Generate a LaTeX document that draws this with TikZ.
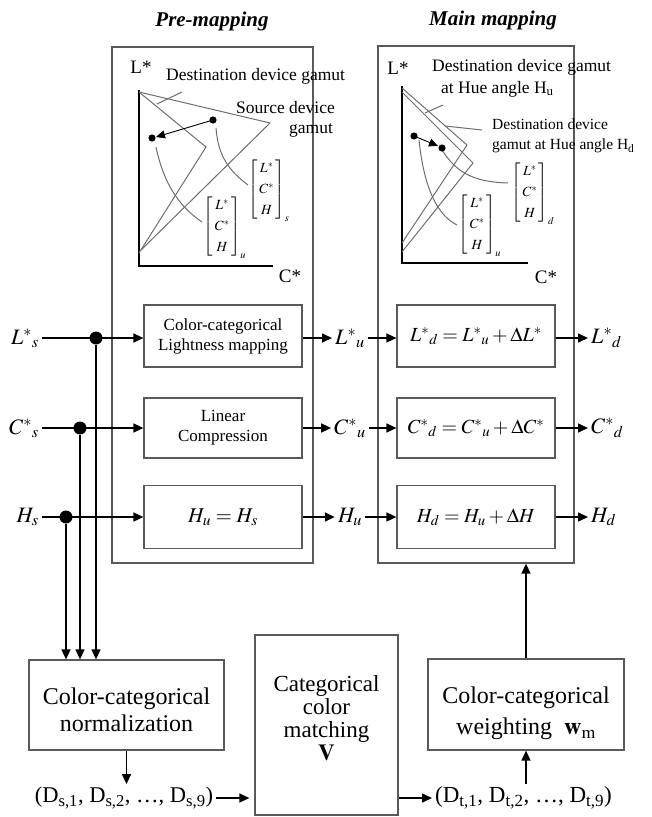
\documentclass[tikz,border=0pt]{standalone}
\usepackage{mathptmx}
\usepackage{fontspec}
\setmainfont{Liberation Serif}
\usepackage{xcolor}
\definecolor{boxgray}{HTML}{5A5A5A}
\definecolor{linegray}{HTML}{6E6E6E}
\usepackage{tikz}
\usetikzlibrary{arrows.meta,positioning,calc}
\newcommand{\fsz}[1]{\fontsize{#1}{#1}\selectfont}
\newcommand{\lchvec}[1]{$\renewcommand{\arraystretch}{1.5}\left[\begin{array}{@{\,}c@{\,}}L^{*}\\C^{*}\\H\end{array}\right]_{#1}$}
\newcommand{\dropby}[2]{\raisebox{-#1}[\height][\depth]{\begin{tabular}{@{}c@{}}#2\end{tabular}}}

\begin{document}
\begin{tikzpicture}[
  x=1pt, y=-1pt,
  big/.style={draw=boxgray, line width=1.3pt, inner sep=0pt},
  blk/.style={draw=boxgray, line width=1.2pt, minimum width=158pt, align=center, inner sep=0pt},
  lbl/.style={inner sep=3pt, font=\fsz{22}},
  junc/.style={circle, fill=black, inner sep=0pt, minimum size=13pt},
  arr/.style={-{Triangle[length=10pt, width=9pt]}, line width=1.6pt},
  gam/.style={draw=linegray, line width=1pt},
  axis/.style={line width=2pt}
]
\useasboundingbox (0,0) rectangle (651,817);

% titles and the two stages
\node[font=\fsz{21}\bfseries\itshape] (pretitle) at (212,21) {Pre-mapping};
\node[font=\fsz{21}\bfseries\itshape] (maintitle) at (493,20) {Main mapping};
\node[big, minimum width=201pt, minimum height=516pt] (prebox) at (212.5,305) {};
\node[big, minimum width=196pt, minimum height=517pt] (mainbox) at (476,304.5) {};

% pre-mapping gamut sketch
\draw[axis] (139,90) -- (139,266) -- (273,266);
\draw[gam] (139,92) -- (206,147) -- (139,253);
\draw[gam] (139,92) -- (270,123) -- (139,252);
\draw[gam] (182,92) -- (157,104);
\draw[gam] (216,128) .. controls (218,155) and (228,170) .. (248,185);
\draw[gam] (156,147) .. controls (164,185) and (180,207) .. (202,222);
\node[font=\fsz{19}] (pl) at (141,67) {L*};
\node[font=\fsz{19}] (pc) at (290,276) {C*};
\node[font=\fsz{17.5}, anchor=west, inner sep=0pt] (pdest) at (166,76) {Destination device gamut};
\node[font=\fsz{17.5}, anchor=west, inner sep=0pt] (psrc) at (236,108) {Source device};
\node[font=\fsz{17.5}, inner sep=0pt] (psrcb) at (311,130) {gamut};
\fill (213,120) circle (3.6pt) (152,138) circle (3.6pt);
\draw[-{Triangle[length=9pt, width=8pt]}, line width=0.9pt] (213,120) -- (156,137);
\node[font=\fsz{14}] (pvs) at (269,190) {\lchvec{s}};
\node[font=\fsz{14}] (pvu) at (225,227) {\lchvec{u}};

% main mapping gamut sketch
\draw[axis] (402,86) -- (402,263) -- (528,263);
\draw[gam] (402,88) -- (467,145) -- (402,243);
\draw[gam] (402,92) -- (473,163) -- (402,252);
\draw[gam] (443,105) -- (425,113);
\draw[gam] (482,130) -- (445,126);
\draw[gam] (419,140) .. controls (423,178) and (433,213) .. (457,225);
\draw[gam] (442,150) .. controls (455,170) and (470,182) .. (508,183);
\node[font=\fsz{19}] (ml) at (398,68) {L*};
\node[font=\fsz{19}] (mc) at (546,277) {C*};
\node[font=\fsz{17.5}, anchor=west, inner sep=0pt] (mdest) at (432,67) {Destination device gamut};
\node[font=\fsz{17.5}, anchor=west, inner sep=0pt] (mdestb) at (441,89) {at Hue angle H\textsubscript{u}};
\node[font=\fsz{15.5}, anchor=west, inner sep=0pt] (mhd) at (492,124) {Destination device};
\node[font=\fsz{15.5}, anchor=west, inner sep=0pt] (mhdb) at (492,146) {gamut at Hue angle H\textsubscript{d}};
\fill (414,136) circle (3.6pt) (442,148) circle (3.6pt);
\draw[-{Triangle[length=9pt, width=8pt]}, line width=0.9pt] (414,136) -- (438,146);
\node[font=\fsz{14}] (mvu) at (480,225) {\lchvec{u}};
\node[font=\fsz{14}] (mvd) at (533,193) {\lchvec{d}};

% the three channels
\node[blk, minimum height=62pt, font=\fsz{17}] (lmap) at (223,336) {Color-categorical\\[3pt]Lightness mapping};
\node[blk, minimum height=60pt, font=\fsz{17}] (cmap) at (223,428) {Linear\\[3pt]Compression};
\node[blk, minimum height=63pt, font=\fsz{21}] (hmap) at (223,517) {$H_{u} = H_{s}$};
\node[blk, minimum height=62pt, font=\fsz{20}] (ldel) at (476,336) {$L^{*}{}_{d} = L^{*}{}_{u} + \Delta L^{*}$};
\node[blk, minimum height=60pt, font=\fsz{20}] (cdel) at (476,428) {$C^{*}{}_{d} = C^{*}{}_{u} + \Delta C^{*}$};
\node[blk, minimum height=63pt, font=\fsz{20}] (hdel) at (476,517) {$H_{d} = H_{u} + \Delta H$};

\node[lbl, anchor=east] (ls) at (42,338) {$L^{*}{}_{s}$};
\node[lbl, anchor=east] (cs) at (42,428) {$C^{*}{}_{s}$};
\node[lbl, anchor=east] (hs) at (42,517) {$H_{s}$};
\node[lbl] (lu) at (350,338) {$L^{*}{}_{u}$};
\node[lbl] (cu) at (350,428) {$C^{*}{}_{u}$};
\node[lbl] (hu) at (350,517) {$H_{u}$};
\node[lbl, anchor=west] (ld) at (588,338) {$L^{*}{}_{d}$};
\node[lbl, anchor=west] (cd) at (588,428) {$C^{*}{}_{d}$};
\node[lbl, anchor=west] (hd) at (588,517) {$H_{d}$};

\node[junc] (jl) at (96,338) {};
\node[junc] (jc) at (80,428) {};
\node[junc] (jh) at (66,517) {};

\draw[arr] (ls.east) -- (lmap.west |- ls);
\draw[arr] (cs.east) -- (cmap.west |- cs);
\draw[arr] (hs.east) -- (hmap.west |- hs);
\draw[arr] (lmap.east |- lu) -- (lu.west);
\draw[arr] (cmap.east |- cu) -- (cu.west);
\draw[arr] (hmap.east |- hu) -- (hu.west);
\draw[arr] (lu.east) -- (ldel.west |- lu);
\draw[arr] (cu.east) -- (cdel.west |- cu);
\draw[arr] (hu.east) -- (hdel.west |- hu);
\draw[arr] (ldel.east |- ld) -- (ld.west);
\draw[arr] (cdel.east |- cd) -- (cd.west);
\draw[arr] (hdel.east |- hd) -- (hd.west);

% category stage
\node[blk, minimum width=195pt, minimum height=90pt, font=\fsz{24}] (norm) at (126.5,705) {\dropby{8pt}{Color-categorical\\[3pt]normalization}};
\node[blk, minimum width=143pt, minimum height=180pt, font=\fsz{23}] (match) at (326.5,725) {Categorical\\color\\matching\\$\mathbf{V}$\\[-10pt]\mbox{}};
\node[blk, minimum width=196pt, minimum height=91pt, font=\fsz{24}] (weight) at (526,704.5) {\dropby{10pt}{Color-categorical\\[7pt]weighting\enspace$\mathbf{w}_{\mathrm{m}}$}};
\node[font=\fsz{22.5}, inner sep=3pt] (ds) at (124,798) {(D\textsubscript{s,1}, D\textsubscript{s,2}, \dots, D\textsubscript{s,9})};
\node[font=\fsz{23}, inner sep=3pt, anchor=west] (dt) at (432,798) {(D\textsubscript{t,1}, D\textsubscript{t,2}, \dots, D\textsubscript{t,9})};

\draw[arr] (jl) -- (norm.north -| jl);
\draw[arr] (jc) -- (norm.north -| jc);
\draw[arr] (jh) -- (norm.north -| jh);
\draw[arr] (norm.south) -- (norm.south |- ds.north);
\draw[arr, shorten >=5pt] (ds.east) -- (match.west |- ds);
\draw[arr] (match.east |- dt) -- (dt.west);
\draw[arr] (dt.north -| weight) -- (weight.south);
\draw[arr] (weight.north) -- (mainbox.south -| weight);
\end{tikzpicture}
\end{document}
